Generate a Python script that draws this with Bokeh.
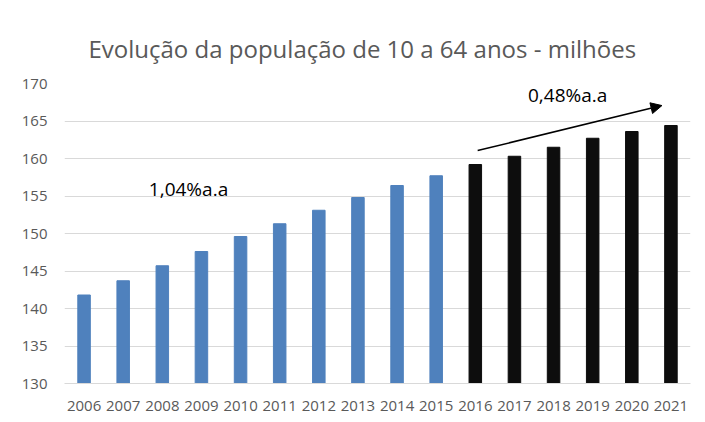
from bokeh.plotting import figure
from bokeh.models import ColumnDataSource, Arrow, NormalHead, Label, FixedTicker
from bokeh.embed import file_html
from bokeh.resources import INLINE

years = [str(y) for y in range(2006, 2022)]
population = [141.8, 143.7, 145.7, 147.6, 149.6, 151.3, 153.1, 154.8,
              156.4, 157.7, 159.2, 160.3, 161.5, 162.7, 163.6, 164.4]
y_ticks = [130, 135, 140, 145, 150, 155, 160, 165, 170]
growth_labels = ["1,04%a.a", "0,48%a.a"]

BLUE = "#4F81BD"
BLACK = "#0d0d0d"
colors = [BLUE if int(y) < 2016 else BLACK for y in years]

src = ColumnDataSource(dict(year=years, pop=population, color=colors))

p = figure(width=700, height=420, x_range=years, y_range=(130, 170),
           output_backend="svg", toolbar_location=None,
           min_border_left=64, min_border_right=10, min_border_top=83,
           min_border_bottom=37)

p.vbar(x="year", top="pop", bottom=130, width=0.32, color="color", source=src)

FONT = "Open Sans"
GRAY = "#595959"

p.title.text = "Evolução da população de 10 a 64 anos - milhões"
p.title.align = "left"
p.title.text_font = FONT
p.title.text_font_size = "24px"
p.title.text_font_style = "normal"
p.title.text_color = GRAY
p.title.offset = 24
p.title.standoff = 38

p.outline_line_color = None
p.xgrid.grid_line_color = None
p.ygrid.grid_line_color = "#d9d9d9"
p.ygrid.grid_line_width = 1

p.yaxis.ticker = FixedTicker(ticks=y_ticks)
p.yaxis.axis_line_color = None
p.yaxis.major_tick_line_color = None
p.yaxis.minor_tick_line_color = None
p.yaxis.major_label_text_font = FONT
p.yaxis.major_label_text_font_size = "15px"
p.yaxis.major_label_text_color = GRAY
p.yaxis.major_label_standoff = 11

p.xaxis.axis_line_color = "#d9d9d9"
p.xaxis.major_tick_line_color = None
p.xaxis.minor_tick_line_color = None
p.xaxis.major_label_text_font = FONT
p.xaxis.major_label_text_font_size = "15px"
p.xaxis.major_label_text_color = GRAY
p.xaxis.major_label_standoff = 11

p.add_layout(Label(x=3.17, y=156.0, text=growth_labels[0], text_font=FONT,
                   text_font_size="19px", text_color="black",
                   text_align="center", text_baseline="middle"))
p.add_layout(Label(x=12.86, y=168.5, text=growth_labels[1], text_font=FONT,
                   text_font_size="19px", text_color="black",
                   text_align="center", text_baseline="middle"))

p.add_layout(Arrow(end=NormalHead(size=11, fill_color="black", line_color="black"),
                   x_start=10.56, y_start=161.06, x_end=15.27, y_end=167.06,
                   line_color="black", line_width=1.5))

open("out.html", "w").write(file_html(p, INLINE))
